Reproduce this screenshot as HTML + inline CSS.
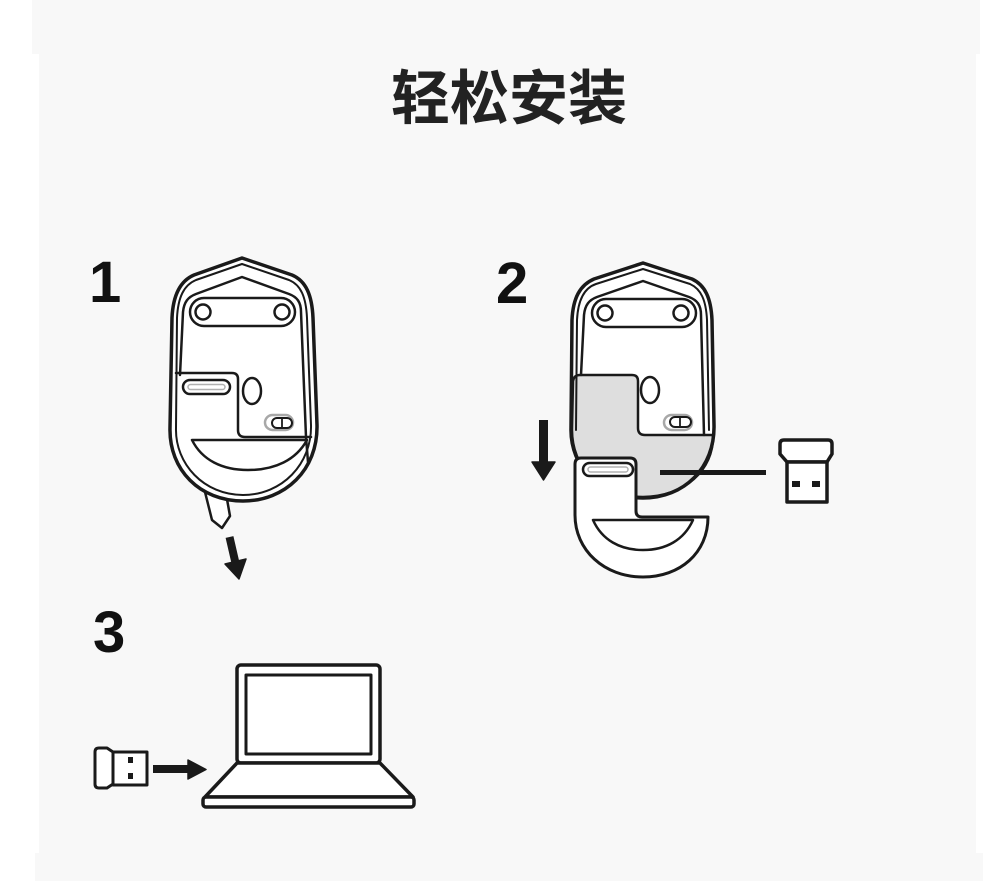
<!DOCTYPE html>
<html>
<head>
<meta charset="utf-8">
<style>
html,body{margin:0;padding:0;background:#ffffff;}
body{width:990px;height:881px;overflow:hidden;position:relative;}
svg{position:absolute;left:0;top:0;}
</style>
</head>
<body>
<svg width="990" height="881" viewBox="0 0 990 881" xmlns="http://www.w3.org/2000/svg">
  <!-- backgrounds -->
  <rect x="0" y="0" width="990" height="881" fill="#ffffff"/>
  <rect x="32" y="0" width="948" height="54" fill="#f8f8f8"/>
  <rect x="39" y="54" width="937" height="799" fill="#f8f8f8"/>
  <rect x="35" y="853" width="948" height="28" fill="#f8f8f8"/>

  <!-- title -->
  <text x="391" y="119" font-family="'Liberation Sans','Noto Sans CJK SC',sans-serif" font-weight="bold" font-size="59" fill="#222">轻松安装</text>

  <!-- step numbers -->
  <text x="89" y="302" font-family="'Liberation Sans',sans-serif" font-weight="bold" font-size="58" fill="#111">1</text>
  <text x="496" y="303" font-family="'Liberation Sans',sans-serif" font-weight="bold" font-size="58" fill="#111">2</text>
  <text x="93" y="652" font-family="'Liberation Sans',sans-serif" font-weight="bold" font-size="58" fill="#111">3</text>

  <g stroke="#1a1a1a" stroke-linejoin="round" stroke-linecap="round" fill="none">

    <!-- ================= MOUSE 1 ================= -->
    <!-- tab -->
    <polygon points="204,488 212,520 222,528 230,516 225,488" fill="#fff" stroke-width="2.5"/>
    <!-- body fill + outer -->
    <path d="M 242 258 L 292 275 C 306 281 312 295 313 318 L 317 425 C 318 470 285 501 243 501 C 200 501 169 470 170 428 L 172 318 C 173 295 180 281 194 275 Z" fill="#fff" stroke-width="3.5"/>
    <!-- second line -->
    <path d="M 242 264 L 289 280 C 301 285 306 297 307 318 L 311 425 C 312 464 282 495 243 495 C 204 495 175 464 176 428 L 177 318 C 178 297 184 285 196 280 Z" stroke-width="2"/>
    <!-- inner panel line -->
    <path d="M 180 375 L 183 312 C 184 302 188 297 196 294 L 242 277 L 289 294 C 297 297 301 302 301 312 L 306 437 L 308 462" stroke-width="2.5"/>
    <!-- feet bar -->
    <rect x="190" y="298" width="105" height="28" rx="14" stroke-width="2.5" fill="#fff"/>
    <circle cx="203" cy="312" r="7.5" stroke-width="2.5" fill="#fff"/>
    <circle cx="282" cy="312" r="7.5" stroke-width="2.5" fill="#fff"/>
    <!-- battery panel edge -->
    <path d="M 176 373 L 232 373 Q 238 373 238 379 L 238 430 Q 238 437 245 437 L 311 437" stroke-width="2.5"/>
    <!-- slot pill -->
    <rect x="183" y="380" width="47" height="14" rx="7" stroke-width="2.5" fill="#fff"/>
    <rect x="188" y="384.5" width="37" height="5" rx="2.5" stroke="#b0b0b0" stroke-width="1.5"/>
    <!-- sensor oval -->
    <ellipse cx="252" cy="391" rx="9" ry="13" stroke-width="2.5"/>
    <!-- switch -->
    <rect x="265" y="415" width="28" height="15" rx="7.5" stroke="#a8a8a8" stroke-width="2.5"/>
    <rect x="272" y="418" width="20" height="10" rx="5" stroke-width="2"/>
    <line x1="282" y1="418" x2="282" y2="428" stroke-width="1.8"/>
    <!-- half moon -->
    <path d="M 192 440 L 307 440 C 296 460 275 470 248 470 C 222 470 202 460 192 440 Z" stroke-width="2.5" fill="#fff"/>
    <!-- arrow 1 -->
    <line x1="229.5" y1="537" x2="235.5" y2="563" stroke="#1a1a1a" stroke-width="8" stroke-linecap="butt"/>
    <polygon points="239,579 246,559 225,564" fill="#1a1a1a" stroke="#1a1a1a" stroke-width="1.5"/>

    <!-- ================= MOUSE 2 ================= -->
    <path d="M 643 263 L 692 279 C 705 285 711 298 712 320 L 714 425 C 715 468 684 498 643 498 C 601 498 570 468 571 428 L 572 320 C 573 298 580 285 594 279 Z" fill="#fff" stroke="none"/>
    <!-- gray cavity -->
    <path d="M 580 375 L 632 375 Q 638 375 638 381 L 638 428 Q 638 435 645 435 L 713 435 C 714 470 684 497 643 497 C 601 497 571 468 572 428 L 573 381 Q 574 375 580 375 Z" fill="#dedede" stroke-width="2.5"/>
    <!-- outer -->
    <path d="M 643 263 L 692 279 C 705 285 711 298 712 320 L 714 425 C 715 468 684 498 643 498 C 601 498 570 468 571 428 L 572 320 C 573 298 580 285 594 279 Z" stroke-width="3.5"/>
    <!-- second line (upper) -->
    <path d="M 576 430 L 577 320 C 578 300 584 288 596 284 L 643 269 L 690 284 C 701 289 706 300 707 320 L 709 430" stroke-width="2"/>
    <!-- inner panel line -->
    <path d="M 581 375 L 584 315 C 585 305 589 300 597 297 L 643 281 L 689 297 C 697 300 701 305 701 315 L 704 435" stroke-width="2.5"/>
    <!-- feet bar -->
    <rect x="592" y="299" width="104" height="28" rx="14" stroke-width="2.5" fill="#fff"/>
    <circle cx="605" cy="313" r="7.5" stroke-width="2.5" fill="#fff"/>
    <circle cx="681" cy="313" r="7.5" stroke-width="2.5" fill="#fff"/>
    <!-- sensor oval -->
    <ellipse cx="650" cy="390" rx="9" ry="13" stroke-width="2.5" fill="#fff"/>
    <!-- switch -->
    <rect x="664" y="415" width="28" height="15" rx="7.5" stroke="#a8a8a8" stroke-width="2.5" fill="#fff"/>
    <rect x="670" y="417" width="21" height="10" rx="5" stroke-width="2"/>
    <line x1="680" y1="417" x2="680" y2="427" stroke-width="1.8"/>
    <!-- connector line to dongle -->
    <line x1="660" y1="472.5" x2="766" y2="472.5" stroke-width="5" stroke-linecap="butt"/>
    <!-- cover pulled down -->
    <path d="M 581 458 L 630 458 Q 636 458 636 464 L 636 511 Q 636 517 642 517 L 708 517 C 708 553 680 577 643 577 C 604 577 575 550 575 515 L 575 464 Q 575 458 581 458 Z" fill="#fff" stroke-width="3"/>
    <rect x="583" y="463" width="50" height="13" rx="6.5" stroke-width="2.5" fill="#fff"/>
    <rect x="588" y="467" width="40" height="5" rx="2.5" stroke="#b0b0b0" stroke-width="1.5"/>
    <path d="M 593 520 L 693 520 C 684 540 666 550 643 550 C 620 550 602 540 593 520 Z" stroke-width="2.5" fill="#fff"/>
    <!-- arrow 2 -->
    <line x1="543.5" y1="420" x2="543.5" y2="463" stroke="#1a1a1a" stroke-width="9" stroke-linecap="butt"/>
    <polygon points="532,462 555,462 543.5,480" fill="#1a1a1a" stroke="#1a1a1a" stroke-width="1.5"/>

    <!-- dongle 2 -->
    <path d="M 780 444 Q 780 440 784 440 L 828 440 Q 832 440 832 444 L 832 454 L 827 462 L 787 462 L 780 454 Z" fill="#fff" stroke-width="3.5"/>
    <rect x="787" y="462" width="40" height="40" fill="#fff" stroke-width="3.5"/>
    <rect x="792" y="481" width="8" height="6" fill="#1a1a1a" stroke="none"/>
    <rect x="812" y="481" width="8" height="6" fill="#1a1a1a" stroke="none"/>

    <!-- ================= STEP 3 ================= -->
    <!-- dongle 3 -->
    <path d="M 95 752 Q 95 748 99 748 L 107 748 L 113 752 L 113 784 L 107 788 L 99 788 Q 95 788 95 784 Z" fill="#fff" stroke-width="3"/>
    <rect x="113" y="752" width="34" height="33" fill="#fff" stroke-width="3"/>
    <rect x="128" y="757" width="5" height="6" fill="#1a1a1a" stroke="none"/>
    <rect x="128" y="773" width="5" height="6" fill="#1a1a1a" stroke="none"/>
    <!-- arrow 3 -->
    <line x1="153" y1="769" x2="190" y2="769" stroke="#1a1a1a" stroke-width="8" stroke-linecap="butt"/>
    <polygon points="188,760 206,769.5 188,779" fill="#1a1a1a" stroke="#1a1a1a" stroke-width="1.5"/>
    <!-- laptop -->
    <rect x="237" y="665" width="143" height="98" rx="4" fill="#fff" stroke-width="3.5"/>
    <rect x="246" y="675" width="125" height="79" stroke-width="3"/>
    <path d="M 237 763 L 380 763 L 413 797 L 205 797 Z" fill="#fff" stroke-width="3.5"/>
    <rect x="203" y="797" width="211" height="10" rx="3" fill="#fff" stroke-width="3.5"/>
  </g>
</svg>
</body>
</html>
